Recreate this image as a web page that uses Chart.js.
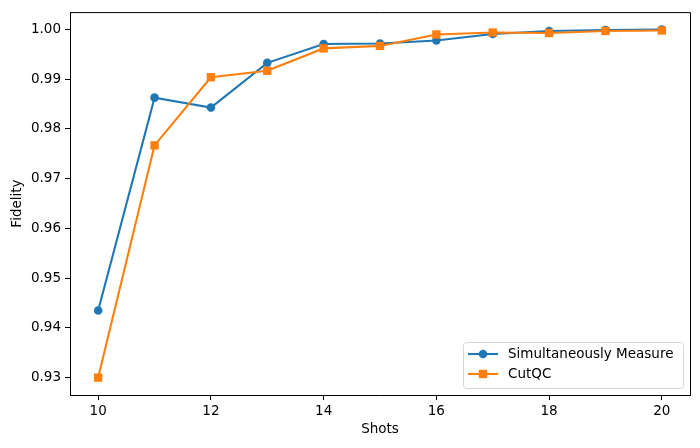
<!DOCTYPE html>
<html>
<head>
<meta charset="utf-8">
<script src="https://cdn.jsdelivr.net/npm/chart.js@4.4.0/dist/chart.umd.min.js"></script>
<style>
html,body{margin:0;padding:0;background:#fff;}
#wrap{width:700px;height:448px;position:relative;}
</style>
</head>
<body>
<div id="wrap"><canvas id="c" width="700" height="448"></canvas></div>
<script>
const shots = [10, 11, 12, 13, 14, 15, 16, 17, 18, 19, 20];
const simultaneous = [0.9435, 0.9863, 0.9843, 0.9933, 0.9971, 0.9972, 0.9978, 0.9991, 0.9997, 0.9999, 1.0000];
const cutqc = [0.9300, 0.9767, 0.9904, 0.9917, 0.9962, 0.9967, 0.9990, 0.9994, 0.9993, 0.9997, 0.9998];
const xTicks = [10, 12, 14, 16, 18, 20];
const yTicks = [0.93, 0.94, 0.95, 0.96, 0.97, 0.98, 0.99, 1.00];
const seriesNames = ['Simultaneously Measure', 'CutQC'];
const colors = ['#1f77b4', '#ff7f0e'];

const FONT = 'DejaVu Sans';
const FS = 13.5;

const legendPlugin = {
  id: 'mplLegend',
  afterDraw(chart) {
    const ctx = chart.ctx;
    const x0 = 463.5, y0 = 342.5, w = 220, h = 46, r = 3;
    ctx.save();
    ctx.beginPath();
    ctx.moveTo(x0 + r, y0);
    ctx.lineTo(x0 + w - r, y0);
    ctx.quadraticCurveTo(x0 + w, y0, x0 + w, y0 + r);
    ctx.lineTo(x0 + w, y0 + h - r);
    ctx.quadraticCurveTo(x0 + w, y0 + h, x0 + w - r, y0 + h);
    ctx.lineTo(x0 + r, y0 + h);
    ctx.quadraticCurveTo(x0, y0 + h, x0, y0 + h - r);
    ctx.lineTo(x0, y0 + r);
    ctx.quadraticCurveTo(x0, y0, x0 + r, y0);
    ctx.closePath();
    ctx.fillStyle = 'rgba(255,255,255,0.8)';
    ctx.fill();
    ctx.strokeStyle = '#d6d6d6';
    ctx.lineWidth = 1;
    ctx.stroke();
    const rows = [354, 374];
    chart.data.datasets.forEach((ds, i) => {
      const cy = rows[i];
      ctx.strokeStyle = ds.borderColor;
      ctx.lineWidth = 2.1;
      ctx.beginPath();
      ctx.moveTo(468, cy);
      ctx.lineTo(498, cy);
      ctx.stroke();
      ctx.fillStyle = ds.borderColor;
      if (ds.pointStyle === 'circle') {
        ctx.beginPath();
        ctx.arc(483, cy, 4.3, 0, Math.PI * 2);
        ctx.fill();
      } else {
        ctx.fillRect(483 - 4.2, cy - 4.2, 8.4, 8.4);
      }
      ctx.fillStyle = '#000';
      ctx.font = FS + 'px "' + FONT + '"';
      ctx.textBaseline = 'middle';
      ctx.textAlign = 'left';
      ctx.fillText(seriesNames[i], 508, cy + 0.5);
    });
    ctx.restore();
  }
};

new Chart(document.getElementById('c'), {
  type: 'line',
  data: {
    datasets: [
      {
        label: seriesNames[0],
        data: shots.map((s, i) => ({x: s, y: simultaneous[i]})),
        borderColor: colors[0],
        backgroundColor: colors[0],
        borderWidth: 2.1,
        pointStyle: 'circle',
        pointRadius: 4.3,
        pointBorderWidth: 0,
        pointHoverRadius: 4.3,
        tension: 0,
        order: 1
      },
      {
        label: seriesNames[1],
        data: shots.map((s, i) => ({x: s, y: cutqc[i]})),
        borderColor: colors[1],
        backgroundColor: colors[1],
        borderWidth: 2.1,
        pointStyle: 'rect',
        pointRadius: 5.9,
        pointBorderWidth: 0,
        pointHoverRadius: 5.9,
        tension: 0,
        order: 0
      }
    ]
  },
  options: {
    responsive: false,
    animation: false,
    devicePixelRatio: 1,
    layout: {padding: {left: 0, right: 10, top: 10, bottom: 0}},
    plugins: {legend: {display: false}, tooltip: {enabled: false}},
    scales: {
      x: {
        type: 'linear',
        min: 9.5,
        max: 20.5,
        afterBuildTicks: (s) => { s.ticks = xTicks.map(v => ({value: v})); },
        afterFit: (s) => { s.height = 53; },
        ticks: {
          color: '#000',
          font: {family: FONT, size: FS},
          padding: 3,
          maxRotation: 0,
          autoSkip: false,
          callback: (v) => String(v)
        },
        grid: {drawOnChartArea: false, color: '#000', tickLength: 5, tickWidth: 1},
        border: {display: true, color: '#000', width: 1},
        title: {display: true, text: 'Shots', color: '#000', font: {family: FONT, size: FS}, padding: {top: 2, bottom: 10}}
      },
      y: {
        type: 'linear',
        min: 0.9265,
        max: 1.0035,
        afterBuildTicks: (s) => { s.ticks = yTicks.map(v => ({value: v})); },
        afterFit: (s) => { s.width = 70; },
        ticks: {
          color: '#000',
          font: {family: FONT, size: FS},
          padding: 4,
          autoSkip: false,
          callback: (v) => Number(v).toFixed(2)
        },
        grid: {drawOnChartArea: false, color: '#000', tickLength: 5, tickWidth: 1},
        border: {display: true, color: '#000', width: 1},
        title: {display: true, text: 'Fidelity', color: '#000', font: {family: FONT, size: FS}, padding: {top: 9, bottom: 2}}
      }
    }
  },
  plugins: [legendPlugin, {
    id: 'topRightBorder',
    afterDraw(chart) {
      const a = chart.chartArea, ctx = chart.ctx;
      ctx.save();
      ctx.strokeStyle = '#000';
      ctx.lineWidth = 1;
      ctx.beginPath();
      ctx.moveTo(a.left, a.top + 0.5);
      ctx.lineTo(a.right + 0.5, a.top + 0.5);
      ctx.lineTo(a.right + 0.5, a.bottom);
      ctx.stroke();
      ctx.restore();
    }
  }]
});
</script>
</body>
</html>
